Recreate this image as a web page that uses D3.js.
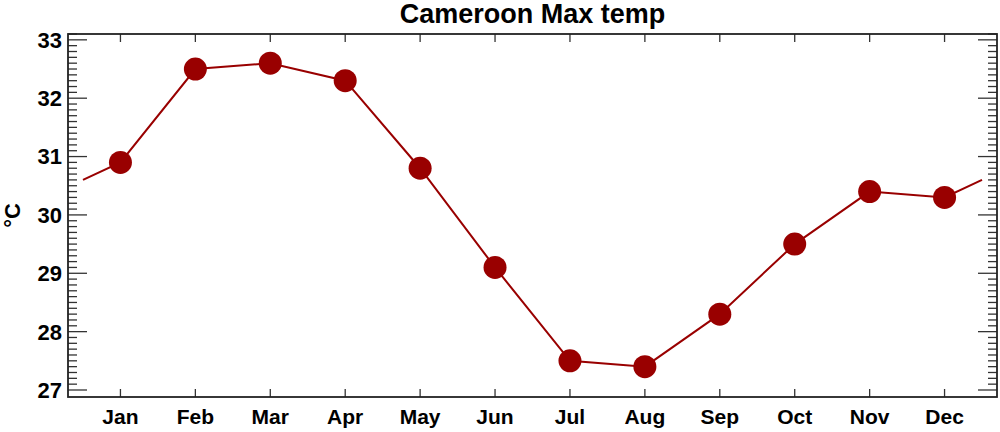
<!DOCTYPE html>
<html>
<head>
<meta charset="utf-8">
<script src="https://cdn.jsdelivr.net/npm/d3@7"></script>
<style>
  body { margin: 0; background: #fff; }
  text { font-family: "Liberation Sans", Arial, sans-serif; font-weight: bold; fill: #000; }
</style>
</head>
<body>
<script>
// chart data
var months = ["Jan","Feb","Mar","Apr","May","Jun","Jul","Aug","Sep","Oct","Nov","Dec"];
var maxTemp = [30.9, 32.5, 32.6, 32.3, 30.8, 29.1, 27.5, 27.4, 28.3, 29.5, 30.4, 30.3];
var yTicks = [27, 28, 29, 30, 31, 32, 33];

var width = 1000, height = 432;
var mLeft = 68, mRight = 997, mTop = 34, mBottom = 397;
var col = "#990000";

var svg = d3.select("body").append("svg")
    .attr("width", width)
    .attr("height", height);

var x = d3.scaleLinear().domain([-0.7, 11.7]).range([mLeft, mRight]);
var y = d3.scaleLinear().domain([26.88, 33.1]).range([mBottom, mTop]);

// pad the line half a month each side with the Dec/Jan average
var edge = (maxTemp[0] + maxTemp[11]) / 2;
var pts = [[-0.5, edge]].concat(maxTemp.map(function(v, i) { return [i, v]; }), [[11.5, edge]]);

// minor ticks every 0.1
var minor = d3.range(270, 332).map(function(d) { return d / 10; })
    .filter(function(d) { return Math.abs(d - Math.round(d)) > 0.01; });

var g = svg.append("g");

// left & right ticks
minor.forEach(function(v) {
    g.append("line").attr("x1", mLeft).attr("x2", mLeft + 9).attr("y1", y(v)).attr("y2", y(v))
        .attr("stroke", "#333").attr("stroke-width", 1.3);
    g.append("line").attr("x1", mRight).attr("x2", mRight - 9).attr("y1", y(v)).attr("y2", y(v))
        .attr("stroke", "#333").attr("stroke-width", 1.3);
});
yTicks.forEach(function(v) {
    g.append("line").attr("x1", mLeft).attr("x2", mLeft + 19).attr("y1", y(v)).attr("y2", y(v))
        .attr("stroke", "#333").attr("stroke-width", 1.3);
    g.append("line").attr("x1", mRight).attr("x2", mRight - 19).attr("y1", y(v)).attr("y2", y(v))
        .attr("stroke", "#333").attr("stroke-width", 1.3);
    g.append("text").attr("x", 62).attr("y", y(v)).attr("dy", "0.36em")
        .attr("text-anchor", "end").style("font-size", "22px").text(v);
});

// month ticks top & bottom
months.forEach(function(m, i) {
    g.append("line").attr("x1", x(i)).attr("x2", x(i)).attr("y1", mBottom).attr("y2", mBottom - 8)
        .attr("stroke", "#333").attr("stroke-width", 1.3);
    g.append("line").attr("x1", x(i)).attr("x2", x(i)).attr("y1", mTop).attr("y2", mTop + 8)
        .attr("stroke", "#333").attr("stroke-width", 1.3);
    g.append("text").attr("x", x(i)).attr("y", 424)
        .attr("text-anchor", "middle").style("font-size", "21px").text(m);
});

// frame
svg.append("rect").attr("x", mLeft).attr("y", mTop)
    .attr("width", mRight - mLeft).attr("height", mBottom - mTop)
    .attr("fill", "none").attr("stroke", "#222").attr("stroke-width", 1.8);

var line = d3.line().x(function(d) { return x(d[0]); }).y(function(d) { return y(d[1]); });

svg.append("path").datum(pts)
    .attr("d", line)
    .attr("fill", "none")
    .attr("stroke", col)
    .attr("stroke-width", 2);

svg.selectAll(".dot").data(maxTemp).enter().append("circle")
    .attr("class", "dot")
    .attr("cx", function(d, i) { return x(i); })
    .attr("cy", function(d) { return y(d); })
    .attr("r", 11.5)
    .attr("fill", col);

// title
svg.append("text").attr("x", (mLeft + mRight) / 2).attr("y", 23)
    .attr("text-anchor", "middle").style("font-size", "27px").text("Cameroon Max temp");

// y label
svg.append("text").attr("transform", "translate(20," + ((mTop + mBottom) / 2) + ") rotate(-90)")
    .attr("text-anchor", "middle").style("font-size", "22px").text("°C");
</script>
</body>
</html>
